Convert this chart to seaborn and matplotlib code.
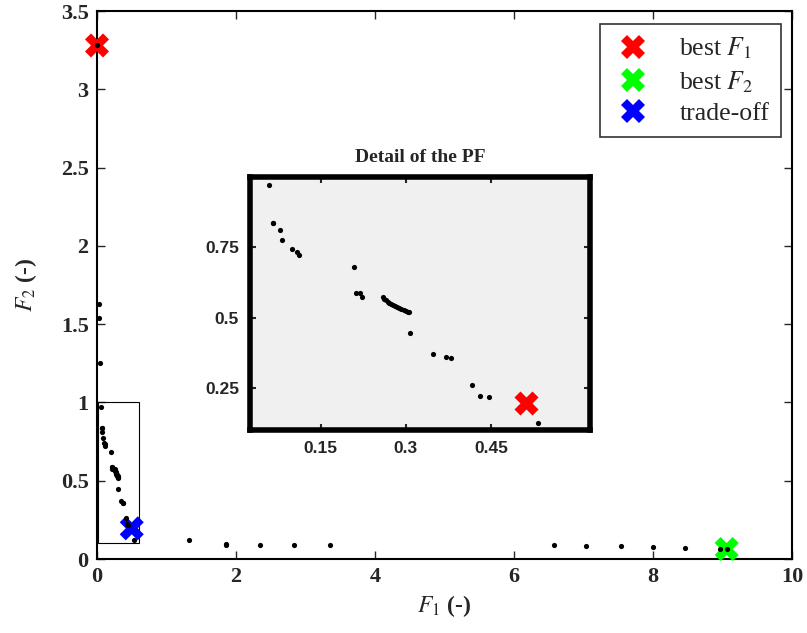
import numpy as np
import pandas as pd
import matplotlib
matplotlib.use("Agg")
import matplotlib.pyplot as plt
import seaborn as sns
from matplotlib.patches import Rectangle
from matplotlib.lines import Line2D

# ---------------- data ----------------
# Pareto-front points inside the detail window
pf_f1 = [0.059, 0.065, 0.066, 0.078, 0.081, 0.099, 0.108, 0.111, 0.208, 0.212,
         0.219, 0.223,
         0.259, 0.262, 0.265, 0.268, 0.271, 0.274, 0.277, 0.280, 0.284, 0.288,
         0.292, 0.296, 0.300, 0.303, 0.306,
         0.308, 0.348, 0.370, 0.380, 0.416, 0.431, 0.447, 0.534]
pf_f2 = [0.972, 0.838, 0.835, 0.812, 0.775, 0.743, 0.733, 0.721, 0.681, 0.589,
         0.588, 0.574,
         0.572, 0.567, 0.562, 0.557, 0.552, 0.548, 0.544, 0.540, 0.537, 0.534,
         0.530, 0.527, 0.524, 0.521, 0.518,
         0.445, 0.370, 0.360, 0.357, 0.261, 0.221, 0.217, 0.124]
# remaining Pareto-front points
other_f1 = [0.0, 0.03, 0.03, 0.04, 1.32, 1.85, 1.86, 2.34, 2.83, 3.35,
            6.57, 7.03, 7.54, 8.00, 8.46, 8.97, 9.07]
other_f2 = [3.28, 1.63, 1.54, 1.25, 0.123, 0.094, 0.092, 0.090, 0.088, 0.089,
            0.089, 0.085, 0.081, 0.075, 0.070, 0.066, 0.062]

sel_labels = ["best $F_1$", "best $F_2$", "trade-off"]
sel_f1 = [0.0, 9.06, 0.50]
sel_f2 = [3.28, 0.064, 0.196]
sel_colors = ["#ff0000", "#00ff00", "#0000ff"]

inset_mark_f1 = [0.512]
inset_mark_f2 = [0.195]

main_xticks = [0, 2, 4, 6, 8, 10]
main_yticks = [0, 0.5, 1, 1.5, 2, 2.5, 3, 3.5]
inset_xticks = [0.15, 0.3, 0.45]
inset_yticks = [0.25, 0.5, 0.75]
inset_xlim = (0.01, 0.61)
inset_ylim = (0.1, 1.0)

# ---------------- style ----------------
sns.set_style("ticks")
plt.rcParams["font.family"] = ["Liberation Serif", "DejaVu Serif"]
plt.rcParams["mathtext.fontset"] = "stix"

all_df = pd.DataFrame({"F1": pf_f1 + other_f1, "F2": pf_f2 + other_f2})
pf_df = pd.DataFrame({"F1": pf_f1, "F2": pf_f2})
sel_df = pd.DataFrame({"F1": sel_f1, "F2": sel_f2, "sol": sel_labels})

fig = plt.figure(figsize=(8.07, 6.33), dpi=100)
ax = fig.add_axes([0.1202, 0.1169, 0.8612, 0.8657])

sns.scatterplot(data=sel_df, x="F1", y="F2", hue="sol", palette=sel_colors,
                marker="X", s=300, linewidth=0, ax=ax, legend=False, zorder=3,
                clip_on=False)
sns.scatterplot(data=all_df, x="F1", y="F2", color="black", s=14,
                linewidth=0, ax=ax, legend=False, zorder=4, clip_on=False)

ax.add_patch(Rectangle((inset_xlim[0], inset_ylim[0]),
                       inset_xlim[1] - inset_xlim[0], inset_ylim[1] - inset_ylim[0],
                       fill=False, edgecolor="black", linewidth=0.8, zorder=2))

ax.set_xlim(0, 10)
ax.set_ylim(0, 3.5)
ax.set_xticks(main_xticks)
ax.set_xticklabels([f"{t:g}" for t in main_xticks])
ax.set_yticks(main_yticks)
ax.set_yticklabels([f"{t:g}" for t in main_yticks])
ax.tick_params(direction="in", length=6, width=1, top=True, right=True,
               labelsize=16, pad=6)
for lab in ax.get_xticklabels() + ax.get_yticklabels():
    lab.set_fontweight("bold")
for sp in ax.spines.values():
    sp.set_visible(True)
    sp.set_linewidth(1.5)
    sp.set_color("black")
ax.set_xlabel(r"$F_1$ (-)", fontsize=17, fontweight="bold", labelpad=4)
ax.set_ylabel(r"$F_2$ (-)", fontsize=17, fontweight="bold", labelpad=16)

handles = [Line2D([], [], marker="X", linestyle="none", markersize=17,
                  markerfacecolor=c, markeredgewidth=0) for c in sel_colors]
leg = ax.legend(handles, sel_labels, loc="upper right", fontsize=18.5,
                frameon=True, fancybox=False, edgecolor="black",
                borderpad=0.45, handletextpad=0.96, labelspacing=0.3,
                handlelength=1.67, borderaxespad=0,
                bbox_to_anchor=(0.984, 0.976))
leg.get_frame().set_linewidth(1.2)

# ---------------- inset ----------------
ins = fig.add_axes([0.3098, 0.3207, 0.4213, 0.3997])
ins.set_facecolor("#f0f0f0")
sns.scatterplot(data=pf_df, x="F1", y="F2", color="black", s=14,
                linewidth=0, ax=ins, legend=False, zorder=3)
sns.scatterplot(x=inset_mark_f1, y=inset_mark_f2, color="#ff0000", marker="X",
                s=300, linewidth=0, ax=ins, legend=False, zorder=4)
ins.set_xlim(0.025, 0.625)
ins.set_ylim(*inset_ylim)
ins.set_xticks(inset_xticks)
ins.set_xticklabels([f"{t:g}" for t in inset_xticks])
ins.set_yticks(inset_yticks)
ins.set_yticklabels([f"{t:g}" for t in inset_yticks])
ins.tick_params(direction="in", length=4, width=1.5, top=True, right=True,
                labelsize=12.5, pad=8)
for lab in ins.get_xticklabels() + ins.get_yticklabels():
    lab.set_fontfamily("Liberation Sans")
    lab.set_fontweight("bold")
for sp in ins.spines.values():
    sp.set_visible(True)
    sp.set_linewidth(4)
    sp.set_color("black")
ins.set_xlabel("")
ins.set_ylabel("")
ins.set_title("Detail of the PF", fontsize=14, fontweight="bold", pad=11)

fig.savefig("out.png", dpi=100)
